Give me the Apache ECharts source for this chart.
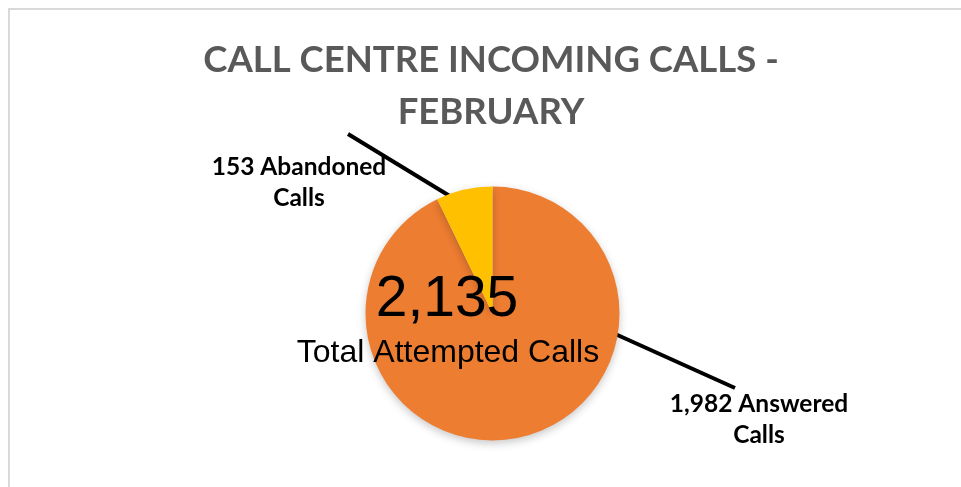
<!DOCTYPE html>
<html>
<head>
<meta charset="utf-8">
<script src="https://cdn.jsdelivr.net/npm/echarts@6/dist/echarts.min.js"></script>
<style>
  html, body { margin: 0; padding: 0; background: #ffffff; }
  #chart { width: 961px; height: 487px; }
</style>
</head>
<body>
<div id="chart"></div>
<script>
// Incoming calls for February, split by outcome
const callTypes = ['Answered Calls', 'Abandoned Calls'];
const callCounts = [1982, 153];
const sliceColors = ['#ED7D31', '#FFC000'];
const titleLines = ['CALL CENTRE INCOMING CALLS -', 'FEBRUARY'];
const totalCaption = 'Total Attempted Calls';

const fmt = v => v.toLocaleString('en-US');
const totalCalls = callCounts.reduce((a, b) => a + b, 0);

// Where each outcome label sits, and its leader line
const labelSpots = [
  { x: 759, y: 420, line: [[613, 333], [735, 388]] },
  { x: 299, y: 183, line: [[453, 198], [348, 134]] }
];

const chart = echarts.init(document.getElementById('chart'), null, { renderer: 'canvas' });

chart.setOption({
  backgroundColor: '#ffffff',
  animation: false,
  graphic: [
    {
      type: 'rect', z: 0, silent: true,
      shape: { x: 9, y: 9, width: 1100, height: 700 },
      style: { fill: 'none', stroke: '#d9d9d9', lineWidth: 2 }
    },
    {
      type: 'text', z: 100, silent: true,
      x: 491, y: 34,
      style: {
        text: titleLines.join('\n'),
        fontFamily: 'Lato', fontWeight: 'bold', fontSize: 36.5,
        lineHeight: 52, fill: '#595959',
        align: 'center', verticalAlign: 'top'
      }
    },
    {
      type: 'text', z: 100, silent: true,
      x: 447, y: 300,
      style: {
        text: fmt(totalCalls),
        fontFamily: 'Liberation Sans', fontSize: 57, fill: '#000000',
        align: 'center', verticalAlign: 'middle'
      }
    },
    {
      type: 'text', z: 100, silent: true,
      x: 448, y: 353,
      style: {
        text: totalCaption,
        fontFamily: 'Liberation Sans', fontSize: 32, fill: '#000000',
        align: 'center', verticalAlign: 'middle'
      }
    }
  ],
  series: [
    {
      type: 'pie',
      center: [492.5, 313.5],
      radius: 127,
      startAngle: 90,
      clockwise: true,
      silent: true,
      emphasis: { disabled: true },
      avoidLabelOverlap: false,
      itemStyle: {
        borderWidth: 0,
        shadowBlur: 8,
        shadowOffsetY: 3,
        shadowColor: 'rgba(0,0,0,0.22)'
      },
      label: {
        show: true,
        position: 'outside',
        formatter: p => fmt(p.value) + ' ' + p.name.replace(' ', '\n'),
        fontFamily: 'Lato', fontWeight: 'bold', fontSize: 24.5,
        lineHeight: 31, color: '#000000', align: 'center'
      },
      labelLine: {
        show: true,
        lineStyle: { color: '#000000', width: 4 }
      },
      labelLayout: params => {
        const s = labelSpots[params.dataIndex];
        return {
          x: s.x, y: s.y,
          align: 'center', verticalAlign: 'middle',
          labelLinePoints: s.line
        };
      },
      data: callTypes.map((name, i) => ({
        name,
        value: callCounts[i],
        itemStyle: { color: sliceColors[i] }
      }))
    }
  ]
});
</script>
</body>
</html>
